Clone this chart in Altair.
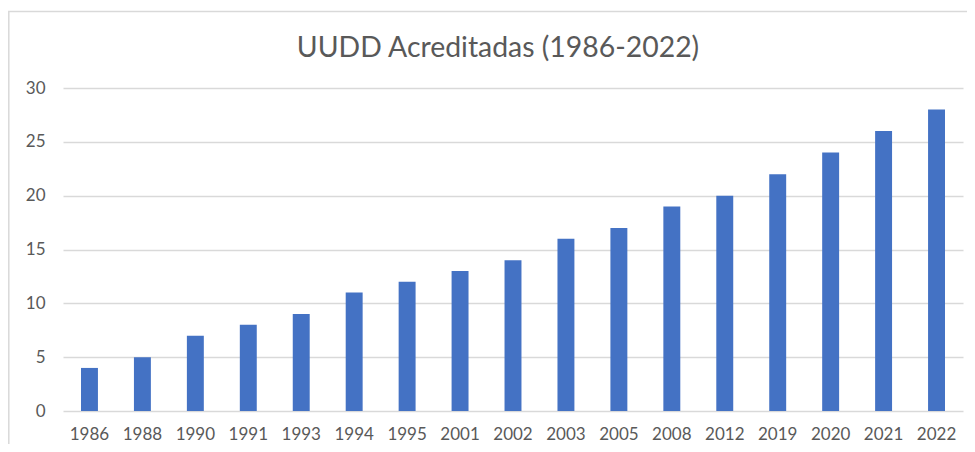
import altair as alt
import pandas as pd

years = ["1986", "1988", "1990", "1991", "1993", "1994", "1995", "2001", "2002",
         "2003", "2005", "2008", "2012", "2019", "2020", "2021", "2022"]
values = [4, 5, 7, 8, 9, 11, 12, 13, 14, 16, 17, 19, 20, 22, 24, 26, 28]
title_text = "UUDD Acreditadas (1986-2022)"

df = pd.DataFrame({"year": years, "value": values})
one = pd.DataFrame({"t": [title_text]})

FONT = "Lato"
GREY = "#595959"

border = alt.Chart(one).mark_rect(
    filled=False, stroke="#D9D9D9", strokeWidth=1.5
).encode(
    x=alt.value(-54.2), x2=alt.value(1000), y=alt.value(-76.5), y2=alt.value(600)
)

title = alt.Chart(one).mark_text(
    font=FONT, fontSize=28.4, color=GREY, align="center", baseline="middle"
).encode(x=alt.value(435), y=alt.value(-40), text="t:N")

bars = alt.Chart(df).mark_bar(color="#4472C4").encode(
    x=alt.X("year:N", sort=years, title=None,
            scale=alt.Scale(paddingInner=0.68, paddingOuter=0.34),
            axis=alt.Axis(labelAngle=0, domain=False, ticks=False, labelPadding=15,
                          labelFontSize=17, labelColor=GREY, labelFont=FONT)),
    y=alt.Y("value:Q", title=None,
            scale=alt.Scale(domain=[0, 30]),
            axis=alt.Axis(values=[0, 5, 10, 15, 20, 25, 30], domain=False, ticks=False,
                          labelPadding=18, labelFontSize=17, labelColor=GREY,
                          labelFont=FONT, gridColor="#D9D9D9", gridWidth=1.5)),
)

chart = alt.layer(border, bars, title).properties(
    width=900, height=323,
    autosize=alt.AutoSizeParams(type="none"),
    padding={"left": 55, "top": 80, "right": 4, "bottom": 33},
).configure_view(stroke=None)

chart.save("out.html", embed_options={"renderer": "svg", "actions": False})
